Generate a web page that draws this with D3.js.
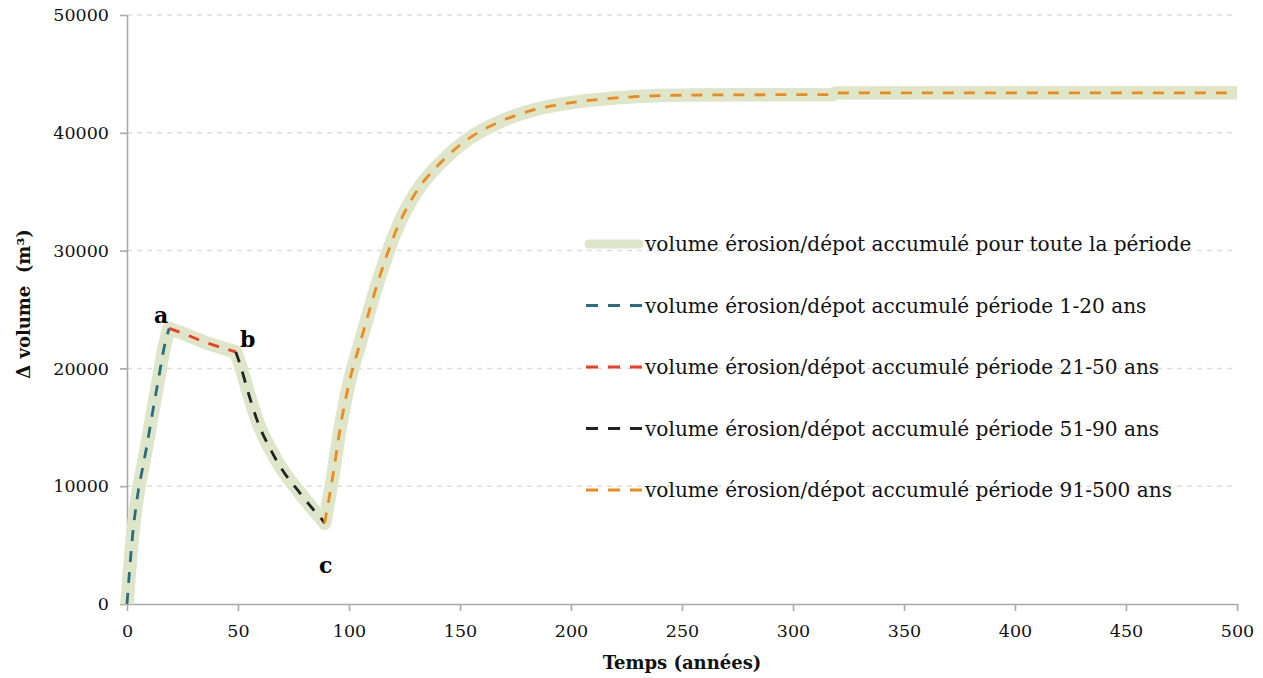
<!DOCTYPE html>
<html>
<head>
<meta charset="utf-8">
<script src="https://cdn.jsdelivr.net/npm/d3@7"></script>
<style>
  html, body { margin: 0; padding: 0; background: #fff; }
  svg { display: block; font-family: "DejaVu Serif", serif; }
</style>
</head>
<body>
<svg id="chart" width="1263" height="678"></svg>
<script>
// Accumulated erosion / deposition volume (m³) against elapsed time (years),
// one pair of arrays per period.
const period1Years  = [0, 1, 2, 3, 4, 5, 7, 9, 11, 14, 17, 19];
const period1Values = [0, 2500, 4800, 6700, 8200, 9500, 11500, 13500, 15700, 18900, 22000, 23400];

const period2Years  = [19, 27, 34, 42, 49];
const period2Values = [23400, 22840, 22300, 21800, 21400];

const period3Years  = [49, 51, 55, 59, 64, 70, 78, 84, 88, 89];
const period3Values = [21400, 20300, 17700, 15400, 13350, 11380, 9400, 8000, 7130, 6850];

const period4Years  = [89, 93, 96, 100, 105, 109, 114, 121, 130, 141, 153, 168, 183, 198, 213, 228, 255, 285, 318, 319, 400, 500];
const period4Values = [6850, 11200, 14900, 18740, 22130, 24800, 27900, 31600, 34900, 37410, 39390, 40940, 41940, 42500, 42840, 43060, 43200, 43230, 43240, 43380, 43390, 43390];

const xTickValues = [0, 50, 100, 150, 200, 250, 300, 350, 400, 450, 500];
const yTickValues = [0, 10000, 20000, 30000, 40000, 50000];

const legendLabels = [
  "volume érosion/dépot accumulé pour toute la période",
  "volume érosion/dépot accumulé période 1-20 ans",
  "volume érosion/dépot accumulé période 21-50 ans",
  "volume érosion/dépot accumulé période 51-90 ans",
  "volume érosion/dépot accumulé période 91-500 ans"
];
const seriesColors = ["#dde6c8", "#2b6b80", "#f23c22", "#222222", "#ee8a1c"];

const pointLabels = ["a", "b", "c"];

// ---- layout ----
const svg = d3.select("#chart");
const W = 1263, H = 678;
const margin = { left: 127, right: 26, top: 15, bottom: 74 };

const x = d3.scaleLinear().domain([0, 500]).range([margin.left, W - margin.right]);
const y = d3.scaleLinear().domain([0, 50000]).range([H - margin.bottom, margin.top]);

const zip = (xs, vs) => xs.map((t, i) => ({ t, v: vs[i] }));
const periods = [
  zip(period1Years, period1Values),
  zip(period2Years, period2Values),
  zip(period3Years, period3Values),
  zip(period4Years, period4Values)
];

// smooth within a period, sharp corners where periods meet
const line = d3.line().x(d => x(d.t)).y(d => y(d.v)).curve(d3.curveMonotoneX);
const segmentPaths = periods.map(p => line(p));
const totalPath = segmentPaths.map((d, i) => i === 0 ? d : d.replace(/^M/, "L")).join("");

// ---- gridlines ----
svg.append("g")
  .selectAll("line")
  .data(yTickValues.filter(d => d > 0))
  .join("line")
  .attr("x1", x(0)).attr("x2", x(500))
  .attr("y1", d => y(d)).attr("y2", d => y(d))
  .attr("stroke", "#dcdcdc")
  .attr("stroke-width", 1.5)
  .attr("stroke-dasharray", "5,5");

// ---- axes ----
const axisColor = "#a9a9a9";
const yAxis = svg.append("g")
  .attr("transform", `translate(${x(0)},0)`)
  .call(d3.axisLeft(y).tickValues(yTickValues).tickFormat(d3.format("d"))
        .tickSize(7).tickSizeOuter(0).tickPadding(11));
const xAxis = svg.append("g")
  .attr("transform", `translate(0,${y(0)})`)
  .call(d3.axisBottom(x).tickValues(xTickValues).tickFormat(d3.format("d"))
        .tickSize(7).tickSizeOuter(0).tickPadding(14));

[yAxis, xAxis].forEach(g => {
  g.select(".domain").attr("stroke", axisColor).attr("stroke-width", 1.6);
  g.selectAll(".tick line").attr("stroke", axisColor).attr("stroke-width", 1.6);
  g.selectAll(".tick text")
    .attr("fill", "#111")
    .style("font-family", '"DejaVu Serif", serif')
    .style("font-size", "17.5px");
});

// axis titles
svg.append("text")
  .attr("x", (x(0) + x(500)) / 2)
  .attr("y", 669)
  .attr("text-anchor", "middle")
  .attr("fill", "#111")
  .style("font-size", "18px")
  .style("font-weight", "bold")
  .text("Temps (années)");

svg.append("text")
  .attr("transform", "translate(30,304) rotate(-90)")
  .attr("text-anchor", "middle")
  .attr("fill", "#111")
  .style("font-size", "18px")
  .style("font-weight", "bold")
  .style("white-space", "pre")
  .text("Δ volume  (m³)");

// ---- series ----
svg.append("path")
  .attr("d", totalPath)
  .attr("fill", "none")
  .attr("stroke", seriesColors[0])
  .attr("stroke-width", 13.5)
  .attr("stroke-linejoin", "round")
  .attr("stroke-linecap", "butt");

segmentPaths.forEach((d, i) => {
  svg.append("path")
    .attr("d", d)
    .attr("fill", "none")
    .attr("stroke", seriesColors[i + 1])
    .attr("stroke-width", 2.8)
    .attr("stroke-dasharray", "11,10")
    .attr("stroke-linejoin", "round");
});

// ---- point labels a, b, c ----
const labelAnchors = [
  { p: periods[0][periods[0].length - 1], dx: -8, dy: -5 },
  { p: periods[1][periods[1].length - 1], dx: 12, dy: -5 },
  { p: periods[2][periods[2].length - 1], dx: 1, dy: 50 }
];
svg.append("g")
  .selectAll("text")
  .data(labelAnchors)
  .join("text")
  .attr("x", d => x(d.p.t) + d.dx)
  .attr("y", d => y(d.p.v) + d.dy)
  .attr("text-anchor", "middle")
  .attr("fill", "#000")
  .style("font-size", "22px")
  .style("font-weight", "bold")
  .text((d, i) => pointLabels[i]);

// ---- legend ----
const legend = svg.append("g").attr("transform", "translate(585,244)");
const rowGap = 61.5;
const rows = legend.selectAll("g")
  .data(legendLabels)
  .join("g")
  .attr("transform", (d, i) => `translate(0,${i * rowGap})`);

rows.append("line")
  .attr("x1", (d, i) => i === 0 ? 4 : 1)
  .attr("x2", (d, i) => i === 0 ? 54 : 57)
  .attr("y1", 0).attr("y2", 0)
  .attr("stroke", (d, i) => seriesColors[i])
  .attr("stroke-width", (d, i) => i === 0 ? 9 : 2.8)
  .attr("stroke-linecap", (d, i) => i === 0 ? "round" : "butt")
  .attr("stroke-dasharray", (d, i) => i === 0 ? null : "12,10");

rows.append("text")
  .attr("x", 60)
  .attr("y", 7)
  .attr("fill", "#111")
  .style("font-size", "20.1px")
  .text(d => d);
</script>
</body>
</html>
